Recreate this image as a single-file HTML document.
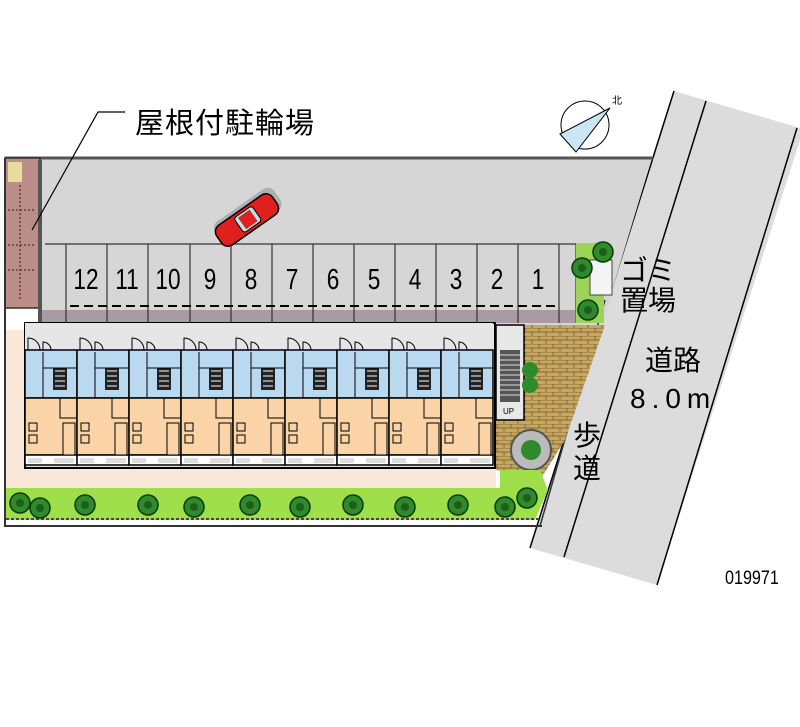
<!DOCTYPE html>
<html><head><meta charset="utf-8"><style>
html,body{margin:0;padding:0;background:#fff;}
svg{display:block}
text{font-family:"Liberation Sans","Noto Sans CJK JP",sans-serif;}
</style></head><body>
<svg width="800" height="727" viewBox="0 0 800 727" xmlns="http://www.w3.org/2000/svg">
<defs>
<g id="unit">
 <rect x="0" y="0" width="52" height="27" fill="#e6e6e6"/>
 <rect x="0" y="27" width="52" height="48" fill="#b9d9f0" stroke="#000" stroke-width="1.5"/>
 <rect x="0" y="75" width="52" height="57" fill="#fad3a6" stroke="#000" stroke-width="1.5"/>
 <rect x="0" y="132" width="52" height="10" fill="#fff" stroke="#000" stroke-width="1.5"/>
 <path d="M3,27 v-12 a12,12 0 0 1 12,12 M18,27 v-8 a8,8 0 0 1 8,8" fill="none" stroke="#000" stroke-width="1"/>
 <rect x="28" y="45" width="14" height="22" fill="#222"/>
 <path d="M30,48h10M30,53h10M30,58h10M30,63h10" stroke="#fff" stroke-width="1"/>
 <path d="M18,29v46M18,45h34" stroke="#000" stroke-width="1"/>
 <rect x="4" y="100" width="8" height="8" fill="#fad3a6" stroke="#000"/>
 <rect x="4" y="112" width="8" height="8" fill="#fad3a6" stroke="#000"/>
 <rect x="38" y="100" width="12" height="32" fill="#fad3a6" stroke="#000"/>
 <path d="M0,75h35v20h17" fill="none" stroke="#000" stroke-width="1"/>
 <rect x="3" y="135" width="14" height="5" fill="#ddd"/>
 <rect x="29" y="135" width="20" height="5" fill="#ddd"/>
</g>
<g id="tree">
 <circle r="10" fill="#2e8a2a" stroke="#0a3a0a" stroke-width="1.5"/>
 <circle r="4" fill="#1d5f1a"/>
</g>
<pattern id="brick" width="14" height="8" patternUnits="userSpaceOnUse">
 <rect width="14" height="8" fill="#c9a85e"/>
 <path d="M0,0h14M0,4h14M7,0v4M0,4v4M14,4v4" stroke="#6e5a30" stroke-width="0.8"/>
</pattern>
</defs>

<!-- road -->
<polygon points="674,91 800,128 800,140 657,585 530,548" fill="#dcdcdc"/>
<line x1="674" y1="91" x2="530" y2="548" stroke="#000" stroke-width="1.5"/>
<line x1="706" y1="101" x2="564" y2="557" stroke="#000" stroke-width="1.5"/>
<line x1="797" y1="128" x2="657" y2="585" stroke="#000" stroke-width="1.5"/>

<!-- parking lot -->
<polygon points="40,158 652,158 600,330 40,330" fill="#d6d6d6"/>
<line x1="5" y1="158" x2="653" y2="158" stroke="#555" stroke-width="3"/>
<rect x="40" y="310" width="535" height="13" fill="#a99aa3"/>
<g stroke="#333" stroke-width="1.2">
 <line x1="66" y1="244" x2="66" y2="323"/><line x1="107" y1="244" x2="107" y2="323"/>
 <line x1="148" y1="244" x2="148" y2="323"/><line x1="190" y1="244" x2="190" y2="323"/>
 <line x1="231" y1="244" x2="231" y2="323"/><line x1="272" y1="244" x2="272" y2="323"/>
 <line x1="313" y1="244" x2="313" y2="323"/><line x1="354" y1="244" x2="354" y2="323"/>
 <line x1="395" y1="244" x2="395" y2="323"/><line x1="436" y1="244" x2="436" y2="323"/>
 <line x1="477" y1="244" x2="477" y2="323"/><line x1="518" y1="244" x2="518" y2="323"/>
 <line x1="559" y1="244" x2="559" y2="323"/><line x1="576" y1="244" x2="576" y2="323"/>
 <path d="M45,244 H576" />
</g>
<g stroke="#000" stroke-width="2" stroke-dasharray="9,5">
 <line x1="70" y1="306" x2="556" y2="306"/>
</g>
<g font-size="29" fill="#000" text-anchor="middle">
 <text transform="translate(86,289) scale(0.78,1)">12</text><text transform="translate(127,289) scale(0.78,1)">11</text><text transform="translate(168,289) scale(0.78,1)">10</text>
 <text transform="translate(210,289) scale(0.78,1)">9</text><text transform="translate(251,289) scale(0.78,1)">8</text><text transform="translate(292,289) scale(0.78,1)">7</text>
 <text transform="translate(333,289) scale(0.78,1)">6</text><text transform="translate(374,289) scale(0.78,1)">5</text><text transform="translate(415,289) scale(0.78,1)">4</text>
 <text transform="translate(456,289) scale(0.78,1)">3</text><text transform="translate(497,289) scale(0.78,1)">2</text><text transform="translate(538,289) scale(0.78,1)">1</text>
</g>

<!-- car -->
<g transform="translate(247,220) rotate(-35)">
 <rect x="-36" y="-13" width="72" height="26" rx="8" fill="#888" opacity="0.5" transform="translate(3,-3)"/>
 <rect x="-34" y="-12" width="68" height="24" rx="8" fill="#e0201c" stroke="#000" stroke-width="1.5"/>
 <rect x="-10" y="-9" width="22" height="18" rx="3" fill="#b8e4ee" stroke="#000"/>
 <rect x="-6" y="-7" width="14" height="14" fill="#e0201c"/>
</g>

<!-- bike shed -->
<rect x="5" y="158" width="35" height="150" fill="#bb8f87" stroke="#333" stroke-width="1.5"/>
<rect x="8" y="162" width="14" height="20" fill="#e8dca0"/>
<g stroke="#222" stroke-width="1" stroke-dasharray="2,2" fill="none">
 <line x1="20" y1="185" x2="20" y2="300"/><line x1="8" y1="210" x2="34" y2="210"/>
 <line x1="8" y1="245" x2="34" y2="245"/><line x1="8" y1="270" x2="34" y2="270"/>
</g>
<line x1="40" y1="160" x2="40" y2="330" stroke="#555" stroke-width="4"/>

<!-- leader line & label -->
<path d="M32,230 L98,112 L125,112" fill="none" stroke="#000" stroke-width="1.2"/>
<text x="135" y="133" font-size="29" fill="#000" letter-spacing="1">屋根付駐輪場</text>

<!-- site outline -->
<line x1="5" y1="158" x2="5" y2="527" stroke="#333" stroke-width="2"/>
<line x1="5" y1="526" x2="542" y2="526" stroke="#333" stroke-width="2"/>
<line x1="605" y1="300" x2="540" y2="526" stroke="#333" stroke-width="1.5"/>

<!-- beige -->
<rect x="6" y="330" width="490" height="160" fill="#fbe7d8"/>
<!-- building -->
<rect x="25" y="323" width="470" height="145" fill="#e6e6e6" stroke="#000" stroke-width="2"/>
<use href="#unit" x="25" y="323"/><use href="#unit" x="77" y="323"/><use href="#unit" x="129" y="323"/>
<use href="#unit" x="181" y="323"/><use href="#unit" x="233" y="323"/><use href="#unit" x="285" y="323"/>
<use href="#unit" x="337" y="323"/><use href="#unit" x="389" y="323"/><use href="#unit" x="441" y="323"/>

<!-- stairs / brick -->
<polygon points="496,325 605,325 565,440 540,480 496,470" fill="url(#brick)"/>
<rect x="496" y="325" width="28" height="95" fill="#e8e8e8" stroke="#000" stroke-width="1.5"/>
<rect x="500" y="350" width="20" height="52" fill="#555"/>
<path d="M500,355h20M500,360h20M500,365h20M500,370h20M500,375h20M500,380h20M500,385h20M500,390h20M500,395h20" stroke="#ddd"/>
<text x="503" y="414" font-size="8" fill="#000">UP</text>
<circle cx="530" cy="370" r="8" fill="#2e8a2a"/><circle cx="530" cy="385" r="8" fill="#2e8a2a"/>
<circle cx="531" cy="450" r="20" fill="#bbb" stroke="#555" stroke-width="2"/>
<circle cx="531" cy="450" r="10" fill="#2e8a2a"/>

<!-- gomi -->
<rect x="576" y="243" width="28" height="80" fill="#9cd45a"/>
<rect x="590" y="260" width="22" height="35" fill="#f4f4f4" stroke="#444"/>
<use href="#tree" x="603" y="252"/><use href="#tree" x="588" y="310"/><use href="#tree" x="582" y="268"/>

<!-- green strip -->
<polygon points="6,488 500,488 500,470 540,470 548,490 535,520 6,520" fill="#9fe04a"/>
<line x1="6" y1="519" x2="540" y2="519" stroke="#444" stroke-width="2" stroke-dasharray="3,2"/>
<use href="#tree" x="20" y="503"/><use href="#tree" x="40" y="508"/><use href="#tree" x="85" y="505"/>
<use href="#tree" x="148" y="505"/><use href="#tree" x="194" y="507"/><use href="#tree" x="250" y="505"/>
<use href="#tree" x="300" y="507"/><use href="#tree" x="353" y="505"/><use href="#tree" x="405" y="507"/>
<use href="#tree" x="458" y="505"/><use href="#tree" x="505" y="507"/><use href="#tree" x="527" y="498"/>

<!-- labels -->
<g font-size="28" fill="#000">
 <text x="620" y="280">ゴミ</text>
 <text x="620" y="310">置場</text>
 <text x="645" y="370">道路</text>
 <text x="630" y="408" letter-spacing="6">8.0m</text>
 <text x="573" y="445">歩</text>
 <text x="573" y="478">道</text>
</g>
<text transform="translate(725,584) scale(0.85,1)" font-size="19" fill="#000">019971</text>

<!-- compass -->
<g stroke="#000" stroke-width="1" fill="none">
 <circle cx="585" cy="125" r="24"/>
 <polygon points="560,134 610,108 576,152" fill="#c9e6f2"/>
 <text x="612" y="104" font-size="10" fill="#000" stroke="none">北</text>
</g>
</svg>
</body></html>
